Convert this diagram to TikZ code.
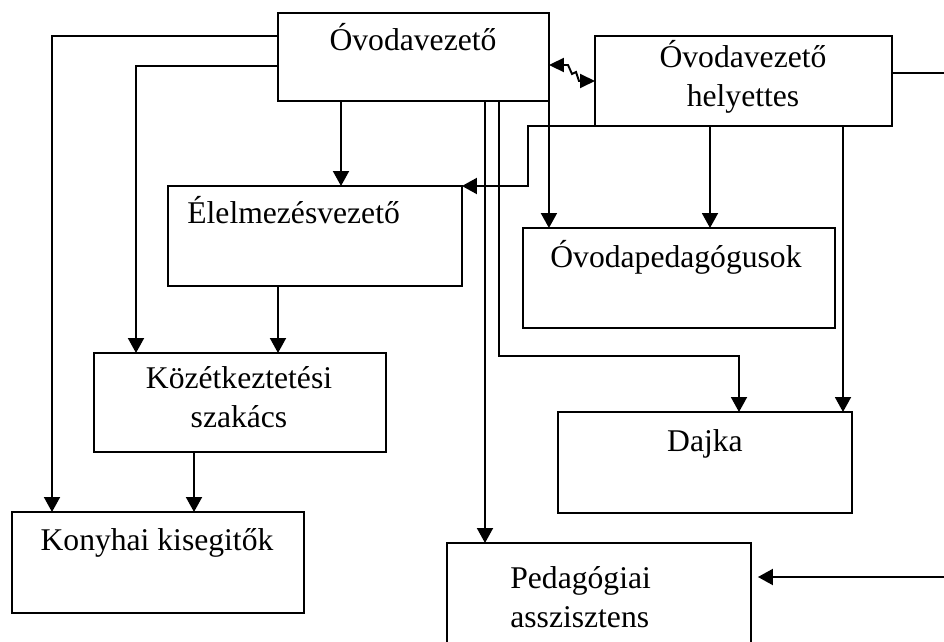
\documentclass[tikz,border=0pt]{standalone}
\usepackage{fontspec}
\setmainfont{Liberation Serif}
\usetikzlibrary{arrows.meta}

\tikzset{
  box/.style={draw, line width=1.1pt, inner sep=0pt, outer sep=0pt, anchor=north west},
  lbl/.style={anchor=base, inner sep=0pt, font=\fontsize{18}{22}\selectfont},
  lblw/.style={lbl, anchor=base west},
  conn/.style={line width=1.1pt},
  arr/.style={conn, -{Triangle[length=0.3cm,width=0.32cm]}},
  dbl/.style={conn, {Triangle[length=0.3cm,width=0.28cm]}-{Triangle[length=0.3cm,width=0.28cm]}}
}

\begin{document}
\begin{tikzpicture}[x=0.02cm, y=-0.02cm]
\useasboundingbox (0,0) rectangle (944,642);
\clip (0,0) rectangle (944,642);

% boxes
\node[box, minimum width=5.42cm, minimum height=1.76cm] (vez) at (278,13) {};
\node[box, minimum width=5.94cm, minimum height=1.8cm] (hely) at (595,36) {};
\node[box, minimum width=5.88cm, minimum height=2cm] (elm) at (168,186) {};
\node[box, minimum width=6.24cm, minimum height=2cm] (ped) at (523,228) {};
\node[box, minimum width=5.84cm, minimum height=1.98cm] (koz) at (94,353) {};
\node[box, minimum width=5.88cm, minimum height=2.02cm] (dajka) at (558,412) {};
\node[box, minimum width=5.84cm, minimum height=2.02cm] (kony) at (12,512) {};
\node[box, minimum width=6.08cm, minimum height=2.4cm] (asszi) at (447,543) {};

% texts
\node[lbl] (vez-t) at (413,51) {Óvodavezető};
\node[lbl] (hely-t1) at (743,68) {Óvodavezető};
\node[lbl] (hely-t2) at (743,107) {helyettes};
\node[lblw] (elm-t) at (187,223) {Élelmezésvezető};
\node[lbl] (ped-t) at (676,267) {Óvodapedagógusok};
\node[lbl] (koz-t1) at (239,388) {Közétkeztetési};
\node[lbl] (koz-t2) at (239,427) {szakács};
\node[lbl] (dajka-t) at (705,451) {Dajka};
\node[lbl] (kony-t) at (157,550) {Konyhai kisegitők};
\node[lblw] (asszi-t1) at (510,588) {Pedagógiai};
\node[lblw] (asszi-t2) at (510,627) {asszisztens};

% connectors
\draw[arr] (vez.west |- 0,36) -| (kony.north -| 52,0);
\draw[arr] (vez.west |- 0,66) -| (koz.north -| 136,0);
\draw[arr] (vez.south -| 341,0) -- (elm.north -| 341,0);
\draw[arr] (elm.south -| 278,0) -- (koz.north -| 278,0);
\draw[arr] (koz.south -| 194,0) -- (kony.north -| 194,0);
\draw[arr] (vez.south -| 485,0) -- (asszi.north -| 485,0);
\draw[arr] (vez.south -| 499,0) -- (499,356) -| (dajka.north -| 739,0);
\draw[arr] (vez.south east) -- (ped.north -| vez.south east);
\draw[arr] (hely.south -| 710,0) -- (ped.north -| 710,0);
\draw[arr] (hely.south -| 843,0) -- (dajka.north -| 843,0);
\draw[arr] (hely.south west) -- (528,126) |- (elm.north east);
\draw[dbl] (vez.east |- 0,65) -- (568,65) -- (572,74) -- (576,72) -- (579,81) -- (hely.west);

% lines leaving the picture
\coordinate (kiJ) at (944,73);
\coordinate (kiA) at (944,577);
\draw[conn] (hely.east |- kiJ) -- (kiJ);
\draw[arr, shorten >=0.14cm] (kiA) -- (asszi.east |- kiA);
\end{tikzpicture}
\end{document}
